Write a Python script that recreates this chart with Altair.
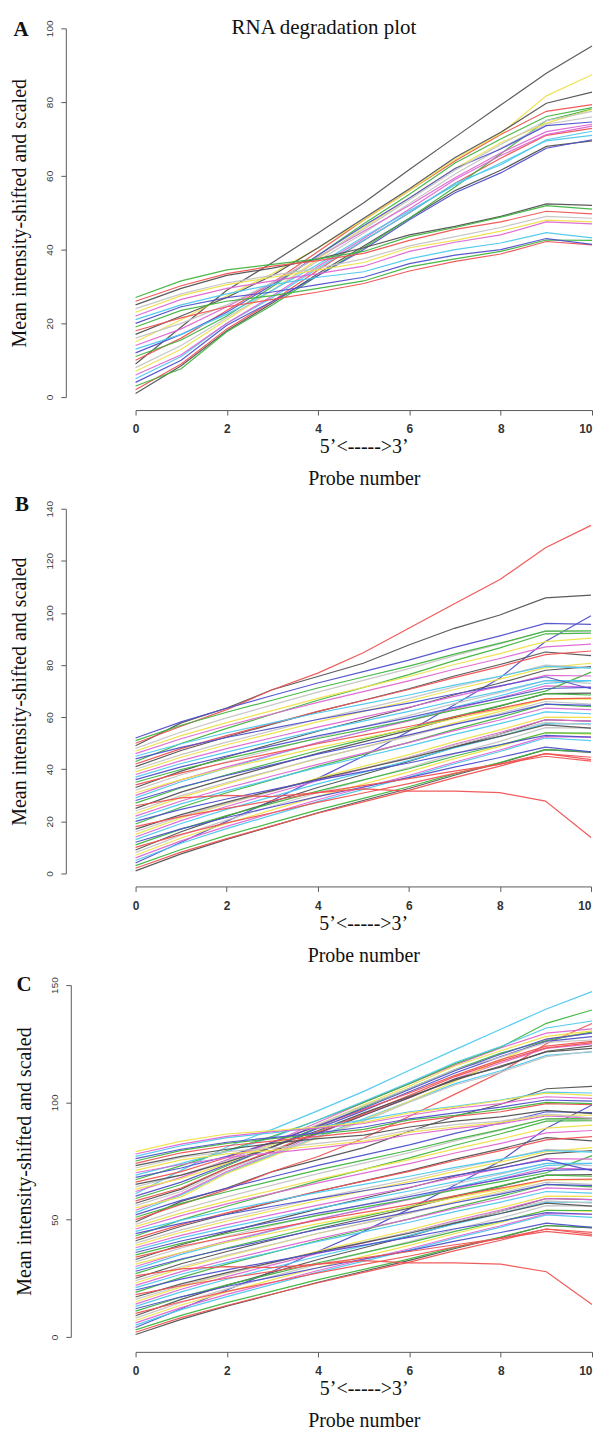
import altair as alt
import pandas as pd

probe_numbers = [0, 1, 2, 3, 4, 5, 6, 7, 8, 9, 10]
x_tick_values = [0, 2, 4, 6, 8, 10]
y_ticks_a = [0, 20, 40, 60, 80, 100]
y_ticks_b = [0, 20, 40, 60, 80, 100, 120, 140]
y_ticks_c = [0, 50, 100, 150]

# R default palette order: black, red, green3, blue, cyan, magenta, yellow, gray
palette_hex = ["#525252", "#f05252", "#3eb43e", "#5050cc", "#4cc8ee", "#de66d2", "#eee24a", "#c4c4c4"]

x_title = ["5\u2019<----->3\u2019", "Probe number"]
y_title = "Mean intensity-shifted and scaled"
main_title = "RNA degradation plot"

panel_a_series = [
    [1, 8.5, 18, 25.5, 33.5, 41, 48.5, 56, 61.5, 68, 69.5],
    [2, 9, 18.5, 26, 34.5, 42.5, 50, 58, 64.8, 71, 72.9],
    [3, 7.7, 17.7, 25, 33, 40.5, 48.5, 57, 66, 75, 78.1],
    [4, 10, 19.5, 26, 33, 40, 48.1, 55.4, 60.8, 67.5, 69.8],
    [5, 11, 20, 27, 35, 42.5, 50, 58, 63, 69.8, 72.1],
    [6, 11.5, 20, 27.5, 35.5, 43, 51, 59, 65.5, 71.2, 73.5],
    [7, 13, 21, 29, 37.5, 46, 54, 62, 69, 74.3, 78],
    [8, 14, 21.5, 29, 37, 44.5, 52.5, 60.5, 67.5, 74, 76],
    [9, 19, 29, 36.5, 44.5, 52.7, 61.7, 70.5, 79.2, 87.8, 95.2],
    [10, 16, 23.5, 31, 39.5, 48, 56, 64, 71.2, 77.5, 79.3],
    [11, 15.5, 22, 30, 38.5, 47, 55, 63.5, 70, 76.1, 78.5],
    [12, 17, 23, 30.5, 38.5, 46.5, 54, 62, 67.3, 73.6, 74.6],
    [13, 17, 22.5, 29, 36, 43.5, 50.5, 57.5, 63.5, 69.5, 71],
    [14, 18.5, 24.5, 31, 38, 45, 52, 59.5, 66.2, 72, 74],
    [15, 21, 27.5, 33.5, 40.5, 48, 56, 64.5, 71.5, 81.7, 87.4],
    [16, 20, 25, 31, 38, 45.5, 53.5, 61.5, 68.5, 75, 77.5],
    [17, 22, 27, 33, 40.5, 48.5, 56.5, 65, 71.8, 79.7, 82.7],
    [18, 21.5, 24.5, 26.5, 28.5, 30.8, 34.2, 36.8, 38.8, 42.2, 41.3],
    [19, 23.5, 26, 27.5, 29.5, 31.5, 35.3, 37.5, 39.5, 42.6, 42.5],
    [20, 24.5, 27, 28.5, 30.5, 32.5, 36.2, 38.5, 40, 43, 41.4],
    [21, 25, 28, 30.5, 32.5, 34, 37.5, 40, 41.8, 44.6, 43.2],
    [22, 26.5, 29.5, 31.5, 33.5, 35.5, 39.5, 42, 44, 47.5, 47],
    [23, 27.5, 30.5, 32.5, 34.5, 36.5, 40.5, 42.5, 45, 48, 47.5],
    [24, 28, 31, 33, 35, 37.5, 41, 43.5, 46, 49, 48.5],
    [25, 29.5, 33, 35, 37.5, 40.5, 44, 46.3, 49, 52.4, 52],
    [26, 30.2, 33.5, 35.5, 37, 39, 42.5, 45.5, 47.5, 50.4, 49.7],
    [27, 31.5, 34.5, 36, 37.5, 39.5, 43.5, 46, 48.8, 51.9, 51],
]

panel_b_series = [
    [1, 7.5, 13.1, 18.2, 23.3, 28, 32.6, 37.7, 42.4, 47.5, 46.5],
    [2, 8.2, 13.4, 18.3, 23.1, 27.5, 31.9, 36.8, 41.2, 46, 43.7],
    [3, 9.2, 14.6, 19.5, 24.4, 28.8, 33.3, 38.2, 42.6, 47.5, 46.7],
    [4, 12, 20, 28, 36.5, 45, 54.6, 64.8, 75, 89, 98.9],
    [5, 11.6, 17.2, 22.4, 27.6, 32.3, 37, 42.1, 46.8, 52, 51],
    [6, 12.5, 18.1, 23.2, 28.3, 33, 37.6, 42.7, 47.4, 52.5, 52.3],
    [7, 13.6, 19.2, 24.4, 29.6, 34.3, 39, 44.1, 48.8, 54, 53.5],
    [8, 14.7, 20.5, 25.8, 31, 35.8, 40.6, 45.9, 50.7, 56, 55.8],
    [9, 16, 22, 27.5, 33, 38, 43, 48.5, 53.5, 59, 58.5],
    [10, 15, 19.4, 23.3, 27.3, 30.9, 34.5, 38.4, 42, 46, 44.6],
    [11, 17, 22.2, 26.9, 31.6, 35.9, 40.2, 45, 49.3, 54, 53.9],
    [12, 17.1, 21.5, 25.5, 29.5, 33.2, 36.8, 40.8, 44.5, 48.5, 46.7],
    [13, 19.2, 24.6, 29.5, 34.4, 38.8, 43.3, 48.2, 52.6, 57.5, 57.4],
    [14, 20.3, 25.7, 30.7, 35.6, 40.1, 44.6, 49.6, 54.1, 59, 58.5],
    [15, 21.3, 26.7, 31.7, 36.6, 41.1, 45.6, 50.6, 55.1, 60, 59.9],
    [16, 21.9, 26.9, 31.5, 36.2, 40.4, 44.6, 49.2, 53.4, 58, 57],
    [17, 22.6, 27.4, 31.8, 36.2, 40.2, 44.2, 48.6, 52.6, 57, 55.8],
    [18, 21.8, 25, 28, 31, 33.7, 36.4, 39.3, 42, 45, 43.1],
    [19, 25.4, 31, 36, 41.1, 45.7, 50.3, 55.3, 59.9, 65, 64],
    [20, 24.6, 28.6, 32.2, 35.8, 39.1, 42.4, 46.1, 49.4, 53, 52.3],
    [21, 26.7, 31.7, 36.2, 40.7, 44.8, 48.9, 53.4, 57.5, 62, 61.3],
    [22, 27.8, 32.8, 37.4, 41.9, 46.1, 50.2, 54.8, 58.9, 63.5, 62.9],
    [23, 29.2, 34.4, 39.3, 44.1, 48.5, 52.9, 57.8, 62.2, 67, 67],
    [24, 29.9, 34.9, 39.5, 44.2, 48.4, 52.6, 57.2, 61.4, 66, 65],
    [25, 31.2, 36.4, 41.3, 46.1, 50.5, 54.9, 59.8, 64.2, 69, 69.2],
    [26, 29, 30, 29.5, 31, 32.5, 31.6, 31.6, 31, 27.8, 13.8],
    [27, 32.9, 37.9, 42.5, 47.2, 51.4, 55.6, 60.2, 64.4, 69, 68.5],
    [28, 33.2, 37.6, 41.7, 45.8, 49.5, 53.2, 57.2, 60.9, 65, 64.5],
    [29, 35.2, 40.4, 45.3, 50.1, 54.5, 58.9, 63.8, 68.2, 73, 74],
    [30, 35.9, 40.9, 45.5, 50.2, 54.4, 58.6, 63.2, 67.4, 72, 71.5],
    [31, 36, 40.4, 44.3, 48.3, 51.9, 55.5, 59.4, 63, 67, 67],
    [32, 37.9, 42.9, 47.5, 52.2, 56.4, 60.6, 65.2, 69.4, 74, 73],
    [33, 39.3, 44.7, 49.7, 54.6, 59.1, 63.6, 68.6, 73.1, 78, 79.4],
    [34, 38.6, 42.6, 46.2, 49.8, 53.1, 56.4, 60.1, 63.4, 67, 67.3],
    [35, 39.9, 44.1, 48, 51.8, 55.3, 58.8, 62.7, 66.2, 70, 77.3],
    [36, 40.9, 45.1, 49, 52.8, 56.3, 59.8, 63.7, 67.2, 71, 71.4],
    [37, 42.2, 46.6, 50.7, 54.8, 58.5, 62.2, 66.2, 69.9, 74, 74],
    [38, 43.3, 47.9, 52.1, 56.2, 60, 63.8, 68, 71.8, 76, 75.8],
    [39, 44.6, 49.4, 53.8, 58.2, 62.2, 66.2, 70.6, 74.6, 79, 80.7],
    [40, 45.6, 50.4, 54.8, 59.2, 63.2, 67.2, 71.6, 75.6, 80, 79],
    [41, 47.2, 52.4, 57.3, 62.1, 66.5, 70.9, 75.8, 80.2, 85, 83.6],
    [42, 47.9, 52.9, 57.5, 62.2, 66.4, 70.6, 75.2, 79.4, 84, 85.4],
    [43, 49.9, 55.7, 61.1, 66.5, 71.4, 76.3, 81.7, 86.6, 92, 92.2],
    [44, 48.4, 52.2, 55.7, 59.1, 62.3, 65.4, 68.9, 72, 75.5, 70.9],
    [45, 49.8, 54, 57.8, 61.6, 65, 68.5, 72.3, 75.7, 79.5, 78.8],
    [46, 51.7, 56.7, 61.2, 65.7, 69.8, 73.9, 78.4, 82.5, 87, 88],
    [47, 52.9, 57.9, 62.5, 67.2, 71.4, 75.6, 80.2, 84.4, 89, 90.3],
    [48, 54.3, 59.7, 64.7, 69.6, 74.1, 78.6, 83.6, 88.1, 93, 92.5],
    [49, 57.8, 63.5, 70.5, 75.6, 80.7, 87.7, 94.1, 99.2, 105.8, 106.8],
    [50, 56.5, 62.9, 70.5, 76.9, 84.7, 94.1, 103.5, 112.8, 125, 133.6],
    [51, 56.9, 61.9, 66.5, 71.2, 75.4, 79.6, 84.2, 88.4, 93, 93.1],
    [52, 58.2, 63.4, 68.3, 73.1, 77.5, 81.9, 86.8, 91.2, 96, 95.6],
]

panel_c_upper_series = [
    [53, 60.5, 70, 77.5, 85.5, 93, 100.5, 108, 113.5, 120, 121.5],
    [54, 61, 70.5, 78, 86.5, 94.5, 102, 110, 116.8, 123, 124.9],
    [55, 59.7, 69.7, 77, 85, 92.5, 100.5, 109, 118, 127, 130.1],
    [56, 62, 71.5, 78, 85, 92, 100.1, 107.4, 112.8, 119.5, 121.8],
    [57, 63, 72, 79, 87, 94.5, 102, 110, 115, 121.8, 124.1],
    [58, 63.5, 72, 79.5, 87.5, 95, 103, 111, 117.5, 123.2, 125.5],
    [59, 65, 73, 81, 89.5, 98, 106, 114, 121, 126.3, 130],
    [60, 66, 73.5, 81, 89, 96.5, 104.5, 112.5, 119.5, 126, 128],
    [61, 71, 81, 88.5, 96.5, 104.7, 113.7, 122.5, 131.2, 139.8, 147.2],
    [62, 68, 75.5, 83, 91.5, 100, 108, 116, 123.2, 129.5, 131.3],
    [63, 67.5, 74, 82, 90.5, 99, 107, 115.5, 122, 128.1, 130.5],
    [64, 69, 75, 82.5, 90.5, 98.5, 106, 114, 119.3, 125.6, 126.6],
    [65, 69, 74.5, 81, 88, 95.5, 102.5, 109.5, 115.5, 121.5, 123],
    [66, 70.5, 76.5, 83, 90, 97, 104, 111.5, 118.2, 124, 126],
    [67, 73, 79.5, 85.5, 92.5, 100, 108, 116.5, 123.5, 133.7, 139.4],
    [68, 72, 77, 83, 90, 97.5, 105.5, 113.5, 120.5, 127, 129.5],
    [69, 74, 79, 85, 92.5, 100.5, 108.5, 117, 123.8, 131.7, 134.7],
    [70, 73.5, 76.5, 78.5, 80.5, 82.8, 86.2, 88.8, 90.8, 94.2, 93.3],
    [71, 75.5, 78, 79.5, 81.5, 83.5, 87.3, 89.5, 91.5, 94.6, 94.5],
    [72, 76.5, 79, 80.5, 82.5, 84.5, 88.2, 90.5, 92, 95, 93.4],
    [73, 77, 80, 82.5, 84.5, 86, 89.5, 92, 93.8, 96.6, 95.2],
    [74, 78.5, 81.5, 83.5, 85.5, 87.5, 91.5, 94, 96, 99.5, 99],
    [75, 79.5, 82.5, 84.5, 86.5, 88.5, 92.5, 94.5, 97, 100, 99.5],
    [76, 80, 83, 85, 87, 89.5, 93, 95.5, 98, 101, 100.5],
    [77, 81.5, 85, 87, 89.5, 92.5, 96, 98.3, 101, 104.4, 104],
    [78, 82.2, 85.5, 87.5, 89, 91, 94.5, 97.5, 99.5, 102.4, 101.7],
    [79, 83.5, 86.5, 88, 89.5, 91.5, 95.5, 98, 100.8, 103.9, 103],
]


def to_frame(series_list):
    rows = []
    for idx, vals in enumerate(series_list, start=1):
        col = palette_hex[(idx - 1) % len(palette_hex)]
        for p, v in zip(probe_numbers, vals):
            rows.append({"series": idx, "probe": p, "value": v, "color": col})
    return pd.DataFrame(rows)


df_a = to_frame(panel_a_series)
df_b = to_frame(panel_b_series)
df_c = to_frame(panel_b_series + panel_c_upper_series)

last_label_right = {
    "condition": {"test": "datum.value == 10", "value": "right"},
    "value": "center",
}


def make_panel(df, ymax, yticks, width, height, y_offset, x_offset, letter, letter_xy, with_title):
    lines = alt.Chart(df).mark_line(strokeWidth=1.2, opacity=0.95).encode(
        x=alt.X(
            "probe:Q",
            scale=alt.Scale(domain=[0, 10], nice=False, zero=False),
            axis=alt.Axis(
                values=x_tick_values, offset=x_offset, title=x_title,
                labelFontSize=12, labelFontWeight="bold", labelPadding=9,
                labelAlign=last_label_right,
                titlePadding=2, titleLineHeight=32, format="d",
            ),
        ),
        y=alt.Y(
            "value:Q",
            scale=alt.Scale(domain=[0, ymax], nice=False),
            axis=alt.Axis(
                values=yticks, offset=y_offset, title=y_title,
                labelAngle=270, labelAlign="center", labelBaseline="bottom",
                labelFontSize=10, labelPadding=6, titlePadding=15, format="d",
            ),
        ),
        color=alt.Color("color:N", scale=None, legend=None),
        detail="series:N",
    )
    layers = [lines]
    letter_layer = alt.Chart(pd.DataFrame({"t": [letter]})).mark_text(
        font="Liberation Serif", fontSize=21, fontWeight="bold", align="center",
        baseline="middle", color="#111",
    ).encode(text="t:N", x=alt.value(letter_xy[0]), y=alt.value(letter_xy[1]))
    layers.append(letter_layer)
    if with_title:
        title_layer = alt.Chart(pd.DataFrame({"t": [main_title]})).mark_text(
            font="Liberation Serif", fontSize=21, align="center", baseline="middle",
            color="#111",
        ).encode(text="t:N", x=alt.value(189), y=alt.value(0))
        layers.append(title_layer)
    return alt.layer(*layers).properties(width=width, height=height)


pa = make_panel(df_a, 100, y_ticks_a, 458, 370, 70, 13, "A", (-115, 2), True)
pb = make_panel(df_b, 140, y_ticks_b, 457, 366, 70, 13, "B", (-114, -4), False)
pc = make_panel(df_c, 150, y_ticks_c, 458, 353, 65, 15, "C", (-112, 0), False)

chart = alt.vconcat(pa, pb, pc, spacing=112, bounds="flush").configure_view(
    stroke=None
).configure_axis(
    grid=False, domainColor="#5a5a5a", tickColor="#5a5a5a", tickSize=5,
    labelFont="Liberation Sans", labelColor="#333333",
    titleFont="Liberation Serif", titleFontWeight="normal", titleColor="#111111",
    titleFontSize=20,
).properties(
    padding={"left": 2, "top": 7, "right": 0, "bottom": 0},
    background="white",
)

chart.save("out.html", embed_options={"renderer": "svg", "actions": False})
